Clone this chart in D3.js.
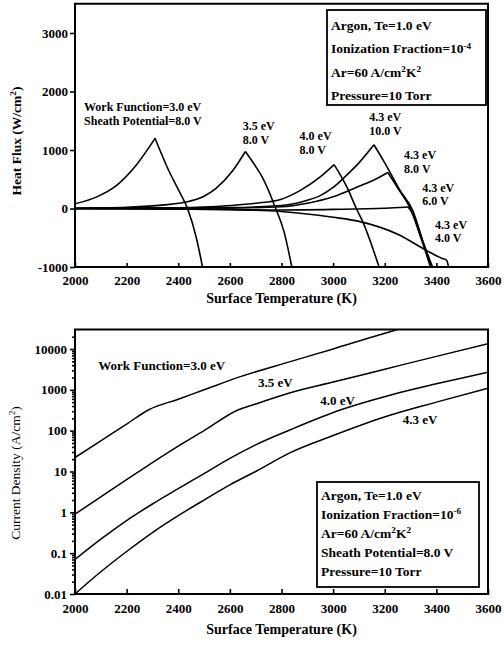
<!DOCTYPE html>
<html>
<head>
<meta charset="utf-8">
<script src="https://cdn.jsdelivr.net/npm/d3@7/dist/d3.min.js"></script>
<style>
  body { margin: 0; background: #fff; }
  svg text { font-family: "Liberation Serif", "Times New Roman", serif; fill: #000; }
</style>
</head>
<body>
<div id="chart"></div>
<script>
// ---- top panel: heat flux (W/cm2) vs surface temperature (K)
const hfWF30   = [[2000,80],[2080,190],[2160,390],[2236,735],[2310,1200],[2363,650],[2402,310],[2436,0],[2470,-500],[2494,-1000]];
const hfWF35   = [[2000,5],[2200,20],[2300,45],[2430,110],[2500,210],[2545,340],[2610,640],[2660,975],[2700,720],[2726,530],[2776,17],[2810,-400],[2840,-1000]];
const hfWF40   = [[2000,0],[2400,10],[2600,50],[2700,90],[2800,160],[2873,310],[2950,540],[3004,750],[3054,360],[3093,-30],[3112,-200],[3178,-1000]];
const hfWF43v10 = [[2000,0],[2600,15],[2800,50],[2900,140],[2950,220],[3000,360],[3050,560],[3100,780],[3158,1090],[3200,780],[3259,310],[3309,-40],[3347,-550],[3382,-1000]];
const hfWF43v8 = [[2000,0],[2600,10],[2800,30],[2900,90],[3000,200],[3100,380],[3160,490],[3212,615],[3255,320],[3297,17],[3343,-540],[3377,-1000]];
const hfWF43v6 = [[2000,0],[2600,-15],[2800,-25],[3000,-15],[3200,5],[3290,25],[3310,-100],[3347,-560],[3385,-1000]];
const hfWF43v4 = [[2000,0],[2400,-10],[2600,-20],[2800,-50],[3000,-150],[3100,-220],[3250,-440],[3363,-720],[3420,-850],[3440,-885],[3447,-1000]];
const hfSeries = [hfWF30, hfWF35, hfWF40, hfWF43v10, hfWF43v8, hfWF43v6, hfWF43v4];

const hfYTicks = [-1000, 0, 1000, 2000, 3000];
const tempTicks = [2000, 2200, 2400, 2600, 2800, 3000, 3200, 3400, 3600];

const hfCurveLabels = [
  ["Work Function=3.0 eV", "Sheath Potential=8.0 V"],
  ["3.5 eV", "8.0 V"],
  ["4.0 eV", "8.0 V"],
  ["4.3 eV", "10.0 V"],
  ["4.3 eV", "8.0 V"],
  ["4.3 eV", "6.0 V"],
  ["4.3 eV", "4.0 V"]
];
const hfLegend = ["Argon, Te=1.0 eV", "Ionization Fraction=10^{-4}", "Ar=60 A/cm^{2}K^{2}", "Pressure=10 Torr"];

// ---- bottom panel: current density (A/cm2, log) vs surface temperature (K)
const jWF30 = [[2000,22],[2100,56],[2200,145],[2286,325],[2400,590],[2500,1000],[2641,2100],[2834,4900],[3000,10000],[3181,22400],[3247,29500]];
const jWF35 = [[2000,0.9],[2100,2.4],[2200,6.3],[2300,16.6],[2400,42],[2500,100],[2633,325],[2700,450],[2834,850],[3000,1550],[3200,3200],[3400,6600],[3600,13500]];
const jWF40 = [[2000,0.07],[2100,0.22],[2200,0.63],[2300,1.6],[2400,3.8],[2500,8.9],[2600,21],[2700,45],[2834,105],[3027,320],[3220,740],[3400,1400],[3600,2700]];
const jWF43 = [[2000,0.01],[2100,0.035],[2200,0.11],[2300,0.32],[2400,0.83],[2500,2.0],[2600,4.7],[2700,10],[2834,29],[3000,76],[3193,210],[3400,500],[3600,1100]];
const jSeries = [jWF30, jWF35, jWF40, jWF43];

const jYTicks = [0.01, 0.1, 1, 10, 100, 1000, 10000];
const jYTickLabels = ["0.01", "0.1", "1", "10", "100", "1000", "10000"];
const jCurveLabels = ["Work Function=3.0 eV", "3.5 eV", "4.0 eV", "4.3 eV"];
const jLegend = ["Argon, Te=1.0 eV", "Ionization Fraction=10^{-6}", "Ar=60 A/cm^{2}K^{2}", "Sheath Potential=8.0 V", "Pressure=10 Torr"];

// ------------------------------------------------------------------
const width = 504, height = 650;
const svg = d3.select('#chart').append('svg')
  .attr('width', width).attr('height', height);

const plotLeft = 75, plotRight = 488;

// text with ^{..} superscripts
function richText(sel, str) {
  const parts = str.split(/\^\{([^}]*)\}/);
  let raised = false;
  parts.forEach((p, i) => {
    if (p === '') return;
    if (i % 2 === 1) {
      sel.append('tspan').attr('font-size', '0.68em').attr('dy', raised ? 0 : '-0.5em').text(p);
      raised = true;
    } else {
      // 0.34em of the parent = 0.5em of the 0.68em superscript
      sel.append('tspan').attr('dy', raised ? '0.34em' : 0).text(p);
      raised = false;
    }
  });
  return sel;
}

function drawFrame(g, top, bottom, id) {
  g.append('clipPath').attr('id', id)
    .append('rect').attr('x', plotLeft).attr('y', top)
    .attr('width', plotRight - plotLeft).attr('height', bottom - top);
  g.append('rect')
    .attr('x', plotLeft).attr('y', top)
    .attr('width', plotRight - plotLeft).attr('height', bottom - top)
    .attr('fill', 'none').attr('stroke', '#000').attr('stroke-width', 2);
}

function styleAxis(ax) {
  ax.select('.domain').remove();
  ax.selectAll('line').attr('stroke', '#000').attr('stroke-width', 1.6);
  ax.selectAll('text').attr('font-size', 13).attr('font-weight', 'bold')
    .attr('font-family', '"Liberation Serif", serif').attr('fill', '#000');
}

// split a curve at its peak so the cusp stays sharp
function peakSegments(pts) {
  let k = d3.maxIndex(pts, d => d[1]);
  const segs = [];
  if (k > 0) segs.push(pts.slice(0, k + 1));
  if (k < pts.length - 1) segs.push(pts.slice(k));
  return segs;
}

// ================== top chart ==================
const top1 = 3.75, bot1 = 267;
const x1 = d3.scaleLinear().domain([2000, 3600]).range([plotLeft, plotRight]);
const y1 = d3.scaleLinear().domain([-1000, 3500]).range([bot1, top1]);

const g1 = svg.append('g');
drawFrame(g1, top1, bot1, 'clip1');

const xAxis1 = g1.append('g').attr('transform', `translate(0,${bot1})`)
  .call(d3.axisBottom(x1).tickValues(tempTicks).tickSize(-4).tickPadding(9).tickFormat(d3.format('d')));
styleAxis(xAxis1);

const yAxis1 = g1.append('g').attr('transform', `translate(${plotLeft},0)`)
  .call(d3.axisLeft(y1).tickValues(hfYTicks).tickSize(5).tickPadding(2).tickFormat(d => String(d)));
styleAxis(yAxis1);

const line1 = d3.line().x(d => x1(d[0])).y(d => y1(d[1])).curve(d3.curveMonotoneX);
const curves1 = g1.append('g').attr('clip-path', 'url(#clip1)');
hfSeries.forEach(s => {
  peakSegments(s).forEach(seg => {
    curves1.append('path').attr('d', line1(seg))
      .attr('fill', 'none').attr('stroke', '#000').attr('stroke-width', 1.6);
  });
});

// curve labels (anchor in data coords, one text per line)
const hfLabelPos = [[2035, 1660], [2650, 1340], [2870, 1170], [3140, 1490], [3275, 840], [3345, 290], [3395, -350]];
hfCurveLabels.forEach((lines, i) => {
  lines.forEach((ln, j) => {
    g1.append('text')
      .attr('x', x1(hfLabelPos[i][0]))
      .attr('y', y1(hfLabelPos[i][1]) + j * 13.5)
      .attr('font-size', 12).attr('font-weight', 'bold')
      .text(ln);
  });
});

// legend box
g1.append('rect').attr('x', 327).attr('y', 10).attr('width', 159).attr('height', 95)
  .attr('fill', '#fff').attr('stroke', '#000').attr('stroke-width', 1.8);
hfLegend.forEach((s, i) => {
  richText(g1.append('text').attr('x', 331).attr('y', 30 + i * 23.3)
    .attr('font-size', 13.5).attr('font-weight', 'bold'), s);
});

// axis titles
g1.append('text').attr('x', (plotLeft + plotRight) / 2).attr('y', 303)
  .attr('text-anchor', 'middle').attr('font-size', 14).attr('font-weight', 'bold')
  .text('Surface Temperature (K)');
richText(g1.append('text').attr('transform', 'translate(21,141) rotate(-90)')
  .attr('text-anchor', 'middle').attr('font-size', 13.5).attr('font-weight', 'bold'), 'Heat Flux (W/cm^{2})');

// ================== bottom chart ==================
const top2 = 329.5, bot2 = 594;
const x2 = d3.scaleLinear().domain([2000, 3600]).range([plotLeft, plotRight]);
const y2 = d3.scaleLog().domain([0.01, 30000]).range([bot2, top2]);

const g2 = svg.append('g');
drawFrame(g2, top2, bot2, 'clip2');

const xAxis2 = g2.append('g').attr('transform', `translate(0,${bot2})`)
  .call(d3.axisBottom(x2).tickValues(tempTicks).tickSize(-5).tickPadding(10).tickFormat(d3.format('d')));
styleAxis(xAxis2);

// minor log ticks
const minor = [];
for (let e = -2; e <= 4; e++) for (let m = 2; m <= 9; m++) {
  const v = m * Math.pow(10, e);
  if (v < 30000) minor.push(v);
}
const yMinor = g2.append('g').attr('transform', `translate(${plotLeft},0)`)
  .call(d3.axisLeft(y2).tickValues(minor).tickSize(3).tickFormat(''));
yMinor.selectAll('text').remove();
styleAxis(yMinor);

const yAxis2 = g2.append('g').attr('transform', `translate(${plotLeft},0)`)
  .call(d3.axisLeft(y2).tickValues(jYTicks).tickSize(5).tickPadding(3)
    .tickFormat((d, i) => jYTickLabels[i]));
styleAxis(yAxis2);

const line2 = d3.line().x(d => x2(d[0])).y(d => y2(d[1])).curve(d3.curveMonotoneX);
const curves2 = g2.append('g').attr('clip-path', 'url(#clip2)');
jSeries.forEach(s => {
  curves2.append('path').attr('d', line2(s))
    .attr('fill', 'none').attr('stroke', '#000').attr('stroke-width', 1.5);
});

const jLabelPos = [[2090, 3000], [2709, 1170], [2950, 420], [3270, 145]];
jCurveLabels.forEach((s, i) => {
  g2.append('text').attr('x', x2(jLabelPos[i][0])).attr('y', y2(jLabelPos[i][1]))
    .attr('font-size', 13).attr('font-weight', 'bold').text(s);
});

g2.append('rect').attr('x', 317).attr('y', 482).attr('width', 162).attr('height', 105)
  .attr('fill', '#fff').attr('stroke', '#000').attr('stroke-width', 1.8);
jLegend.forEach((s, i) => {
  richText(g2.append('text').attr('x', 321).attr('y', 500 + i * 19)
    .attr('font-size', 13.5).attr('font-weight', 'bold'), s);
});

g2.append('text').attr('x', (plotLeft + plotRight) / 2).attr('y', 634)
  .attr('text-anchor', 'middle').attr('font-size', 14).attr('font-weight', 'bold')
  .text('Surface Temperature (K)');
richText(g2.append('text').attr('transform', 'translate(20,473) rotate(-90)')
  .attr('text-anchor', 'middle').attr('font-size', 13.5), 'Current Density (A/cm^{2})');
</script>
</body>
</html>
